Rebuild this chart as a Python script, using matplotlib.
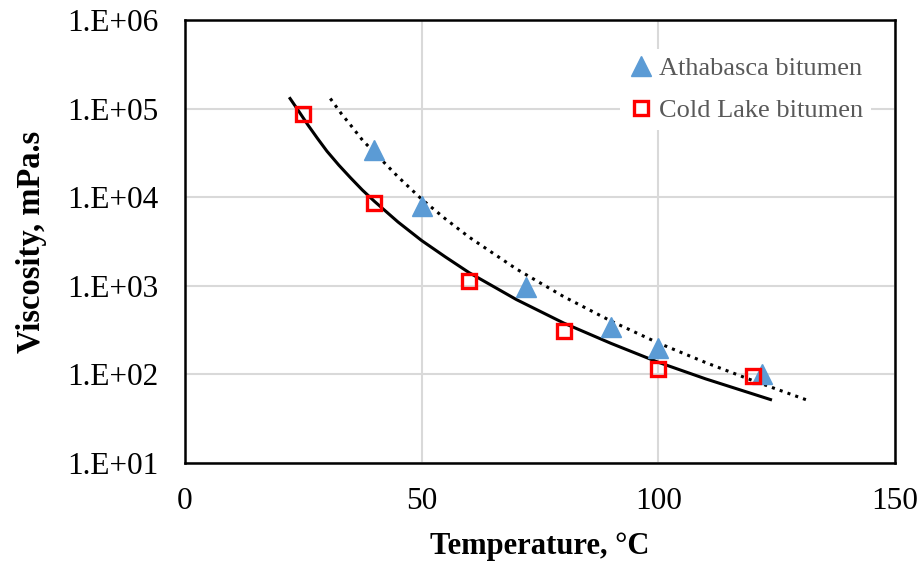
import numpy as np
import matplotlib.pyplot as plt
from matplotlib.ticker import FuncFormatter, FixedLocator

plt.rcParams['font.family'] = ['Liberation Serif', 'DejaVu Serif']

# measured data
ath_T = [40, 50, 72, 90, 100, 122]
ath_mu = [34000, 8000, 980, 345, 200, 100]
cl_T = [25, 40, 60, 80, 100, 120]
cl_mu = [87000, 8600, 1130, 305, 115, 96]

# trend lines
cl_fit_T = [22.2, 24, 26, 28, 30, 32.5, 35, 37.5, 40, 45, 50, 55, 60, 70, 80, 90, 100, 110, 123.7]
cl_fit_mu = [130000, 94000, 65000, 46000, 33000, 23000, 16500, 12000, 9000,
             5250, 3240, 2120, 1410, 700, 380, 224, 137, 89, 52]
ath_fit_T = [30.7, 33, 35, 37.5, 40, 45, 50, 55, 60, 70, 80, 90, 100, 110, 120, 132]
ath_fit_mu = [130000, 88000, 65000, 44000, 32000, 17000, 9500, 5700, 3550,
              1550, 755, 400, 226, 136, 85, 50]

fig = plt.figure(figsize=(9.24, 5.65), dpi=100)
ax = fig.add_axes([185/924, 1-463/565, 710/924, 443/565])

ax.plot(cl_fit_T, cl_fit_mu, color='black', lw=2.2, zorder=3)
ax.plot(ath_fit_T, ath_fit_mu, color='black', lw=2.2, ls=(0, (1, 1.7)), zorder=3)
ax.plot(ath_T, ath_mu, ls='none', marker='^', ms=14, color='#5B9BD5',
        label='Athabasca bitumen', zorder=4)
ax.plot(cl_T, cl_mu, ls='none', marker='s', ms=10, mfc='none', mec='#FF0000',
        mew=2.4, label='Cold Lake bitumen', zorder=4)

ax.set_yscale('log')
ax.set_xlim(0, 150)
ax.set_ylim(10, 1e6)
ax.set_xticks([0, 50, 100, 150])
ax.yaxis.set_major_locator(FixedLocator([1e1, 1e2, 1e3, 1e4, 1e5, 1e6]))
ax.yaxis.set_minor_locator(FixedLocator([]))
ax.yaxis.set_major_formatter(FuncFormatter(lambda v, p: '1.E+%02d' % round(np.log10(v))))
ax.tick_params(length=0, labelsize=22.5, pad=17)
ax.tick_params(axis='y', pad=19)
ax.grid(True, color='#d9d9d9', lw=1.5)
ax.set_axisbelow(True)
for s in ax.spines.values():
    s.set_linewidth(1.8)

ax.set_xlabel('Temperature, °C', fontsize=22, fontweight='bold', labelpad=12)
ax.set_ylabel('Viscosity, mPa.s', fontsize=23.5, fontweight='bold', labelpad=15)

leg = ax.legend(loc='upper right', bbox_to_anchor=(0.985, 0.965), frameon=True,
                framealpha=1, edgecolor='none', fontsize=19, handletextpad=0.2,
                labelspacing=0.7, borderpad=0.3, handlelength=1.0)
for t in leg.get_texts():
    t.set_color('#595959')

fig.savefig('out.png', dpi=100)
